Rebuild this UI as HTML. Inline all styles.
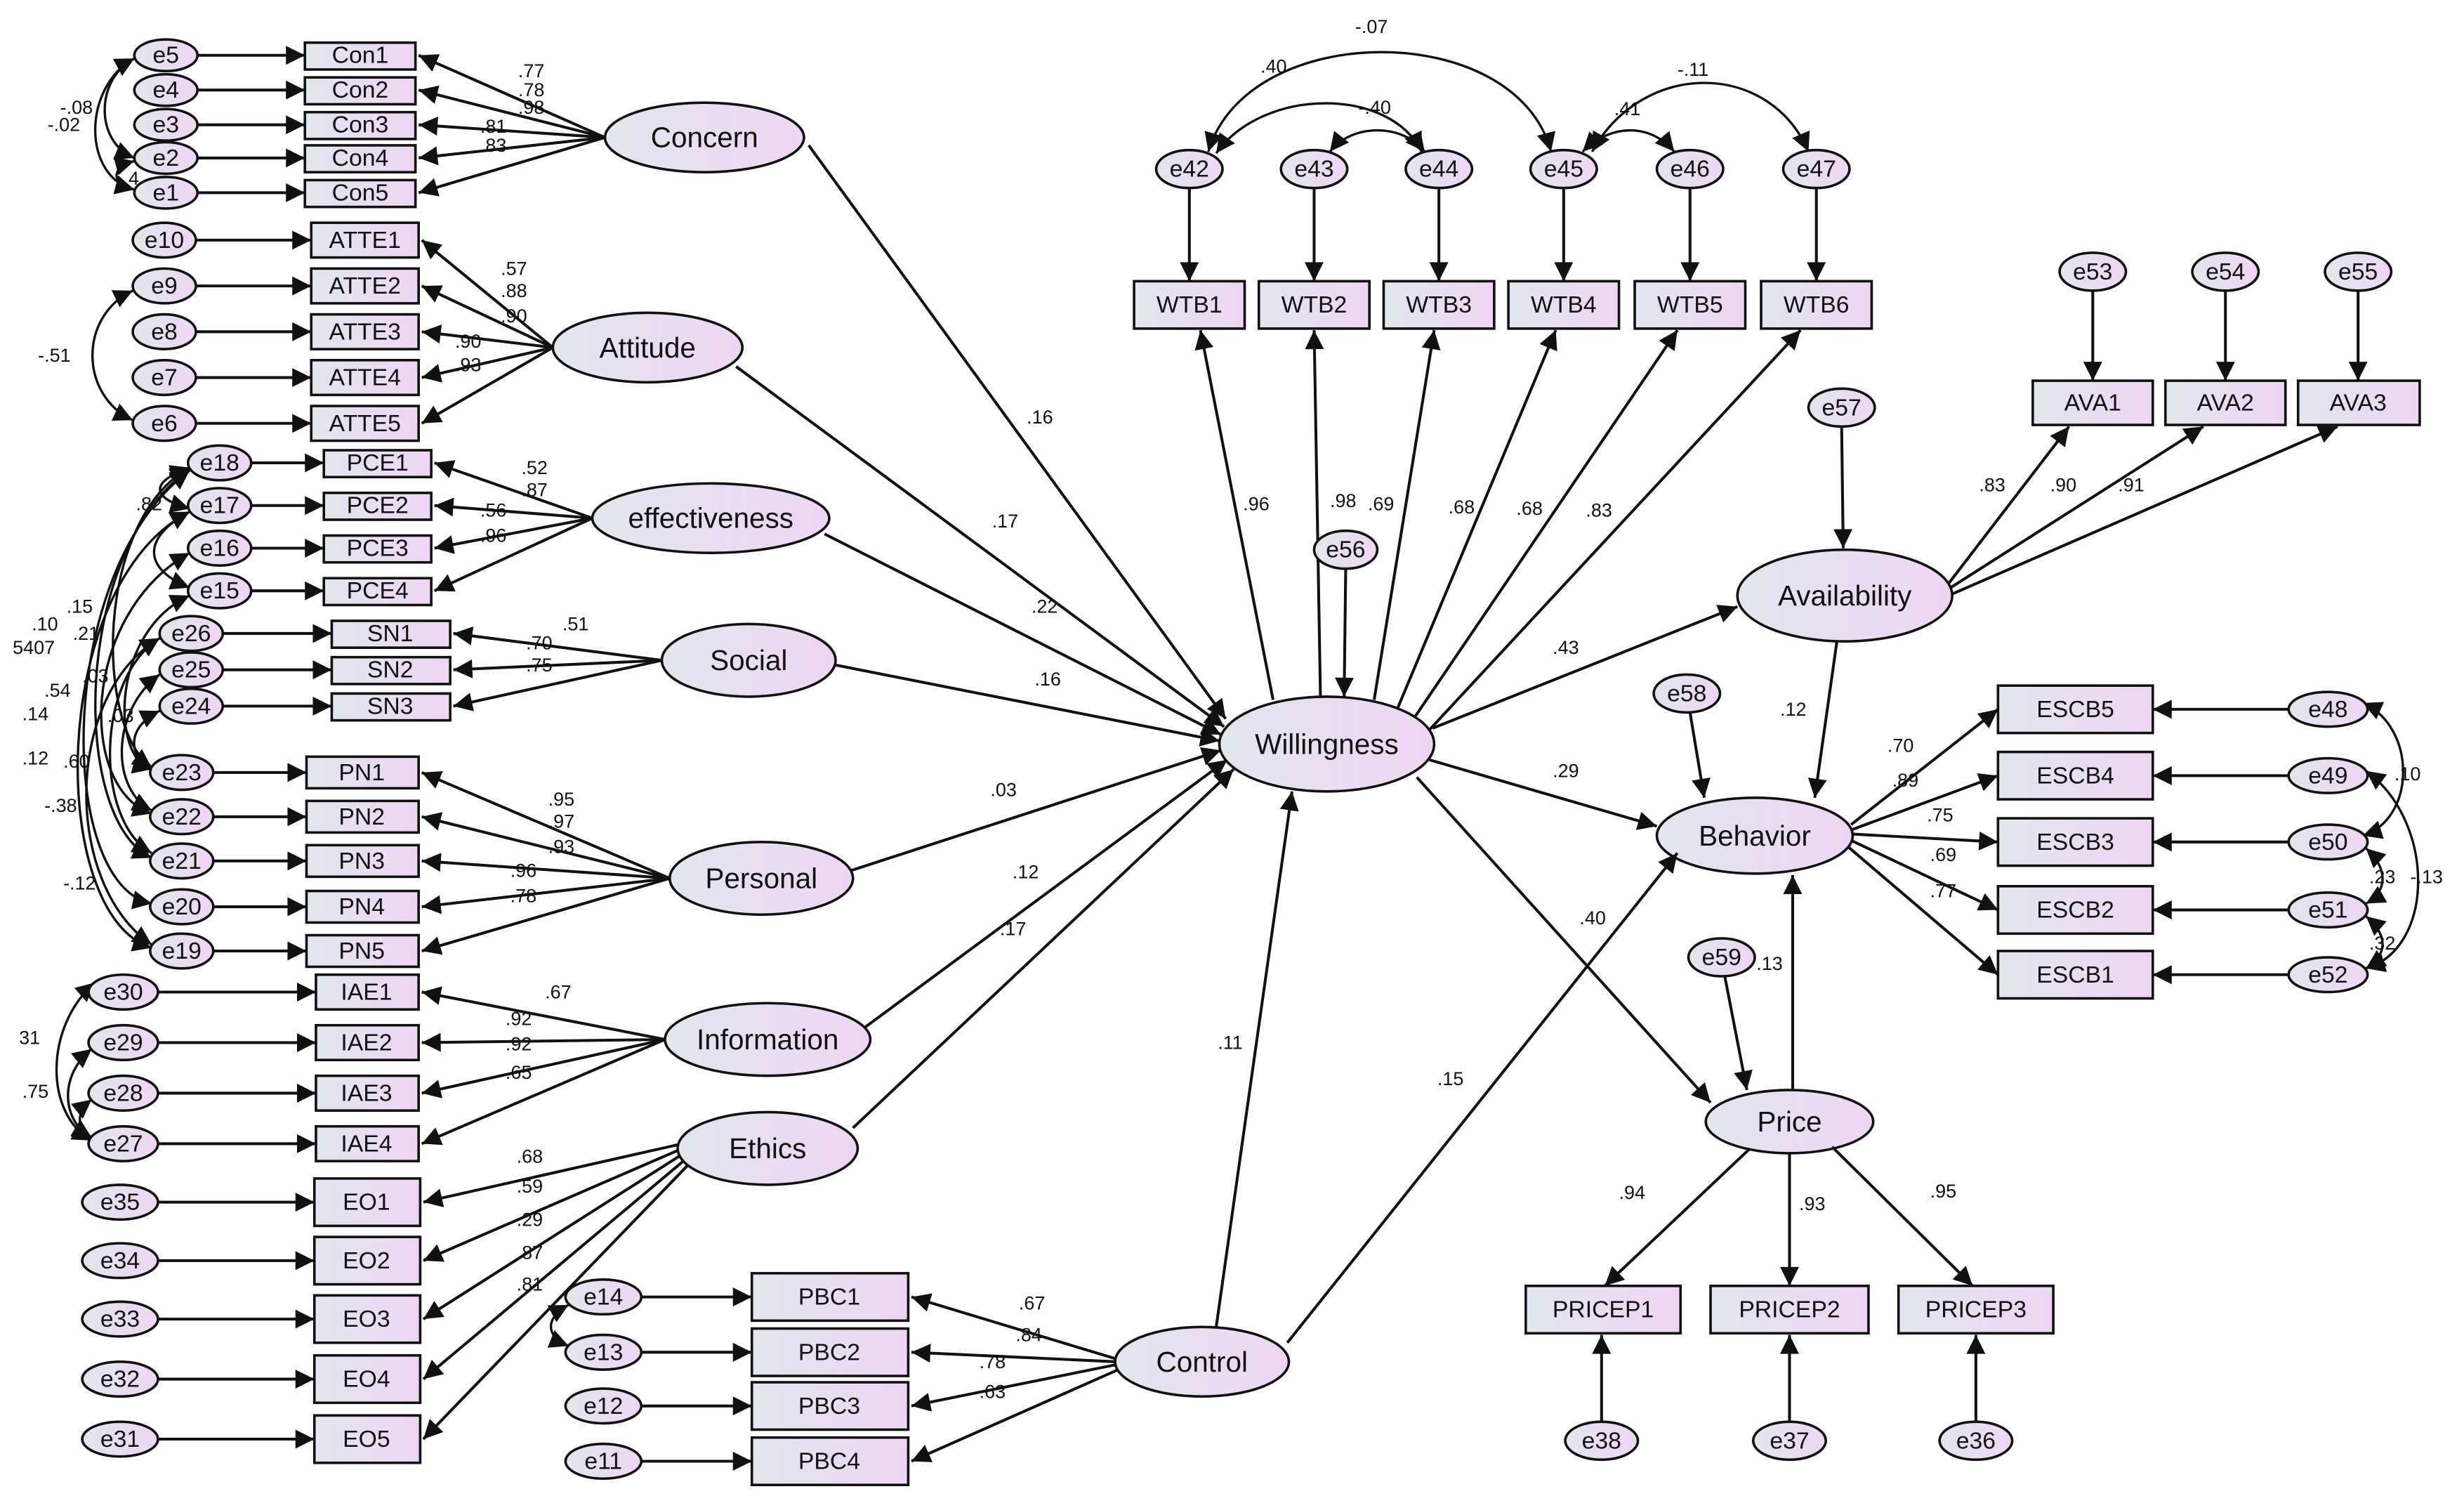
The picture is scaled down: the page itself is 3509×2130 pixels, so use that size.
<!DOCTYPE html>
<html><head><meta charset="utf-8"><style>
html,body{margin:0;padding:0;background:#fff;}
svg{display:block;}
text{font-family:"Liberation Sans",Arial,sans-serif;fill:#111;}
.l{font-size:12px;}
.n{font-size:15px;text-anchor:middle;dominant-baseline:central;}
.b{font-size:18px;text-anchor:middle;dominant-baseline:central;}
ellipse,rect{fill:url(#g);stroke:#111;stroke-width:1.6;}
line,path.c{stroke:#111;stroke-width:1.8;fill:none;marker-end:url(#a);}
path.c{marker-start:url(#a);stroke-width:1.5;}
</style></head><body>
<svg width="3509" height="2130" viewBox="0 0 1560 947" xmlns="http://www.w3.org/2000/svg">
<defs>
<linearGradient id="g" x1="0" x2="1" y1="0" y2="0"><stop offset="0" stop-color="#e2e6ee"/><stop offset="1" stop-color="#eed6f3"/></linearGradient>
<marker id="a" viewBox="0 0 10 10" refX="10" refY="5" markerWidth="16" markerHeight="12" markerUnits="userSpaceOnUse" orient="auto-start-reverse"><path d="M0,0L10,5L0,10z" fill="#111"/></marker>
</defs>
<rect x="0" y="0" width="1560" height="947" style="fill:#fff;stroke:none"/>

<!-- Concern -->
<line x1="125" y1="35" x2="193" y2="35"/><line x1="125" y1="57" x2="193" y2="57"/><line x1="125" y1="79" x2="193" y2="79"/><line x1="125" y1="100" x2="193" y2="100"/><line x1="125" y1="122" x2="193" y2="122"/>
<line x1="383" y1="87" x2="265" y2="35"/><line x1="383" y1="87" x2="265" y2="57"/><line x1="383" y1="87" x2="265" y2="79"/><line x1="383" y1="87" x2="265" y2="100"/><line x1="383" y1="87" x2="265" y2="122"/>
<path class="c" d="M85,37 C60,50 60,90 85,100"/><path class="c" d="M85,37 C52,55 52,112 85,120"/><path class="c" d="M85,102 C70,106 70,116 85,120"/>
<ellipse cx="105" cy="35" rx="20" ry="10"/><text class="n" x="105" y="35">e5</text>
<ellipse cx="105" cy="57" rx="20" ry="10"/><text class="n" x="105" y="57">e4</text>
<ellipse cx="105" cy="79" rx="20" ry="10"/><text class="n" x="105" y="79">e3</text>
<ellipse cx="105" cy="100" rx="20" ry="10"/><text class="n" x="105" y="100">e2</text>
<ellipse cx="105" cy="122" rx="20" ry="10"/><text class="n" x="105" y="122">e1</text>
<rect x="193" y="27" width="70" height="17"/><text class="n" x="228" y="35">Con1</text>
<rect x="193" y="49" width="70" height="17"/><text class="n" x="228" y="57">Con2</text>
<rect x="193" y="71" width="70" height="17"/><text class="n" x="228" y="79">Con3</text>
<rect x="193" y="92" width="70" height="17"/><text class="n" x="228" y="100">Con4</text>
<rect x="193" y="114" width="70" height="17"/><text class="n" x="228" y="122">Con5</text>
<ellipse cx="446" cy="87" rx="63" ry="22"/><text class="b" x="446" y="87">Concern</text>
<text class="l" x="328" y="49">.77</text><text class="l" x="328" y="61">.78</text><text class="l" x="328" y="72">.98</text><text class="l" x="304" y="84">.81</text><text class="l" x="304" y="96">.83</text>
<text class="l" x="38" y="72">-.08</text><text class="l" x="30" y="83">-.02</text><text class="l" x="78" y="117">.4</text>

<!-- Attitude -->
<line x1="124" y1="152" x2="197" y2="152"/><line x1="124" y1="181" x2="197" y2="181"/><line x1="124" y1="210" x2="197" y2="210"/><line x1="124" y1="239" x2="197" y2="239"/><line x1="124" y1="268" x2="197" y2="268"/>
<line x1="350" y1="220" x2="267" y2="152"/><line x1="350" y1="220" x2="267" y2="181"/><line x1="350" y1="220" x2="267" y2="210"/><line x1="350" y1="220" x2="267" y2="239"/><line x1="350" y1="220" x2="267" y2="268"/>
<path class="c" d="M84,184 C50,200 50,250 84,266"/>
<ellipse cx="104" cy="152" rx="20" ry="11"/><text class="n" x="104" y="152">e10</text>
<ellipse cx="104" cy="181" rx="20" ry="11"/><text class="n" x="104" y="181">e9</text>
<ellipse cx="104" cy="210" rx="20" ry="11"/><text class="n" x="104" y="210">e8</text>
<ellipse cx="104" cy="239" rx="20" ry="11"/><text class="n" x="104" y="239">e7</text>
<ellipse cx="104" cy="268" rx="20" ry="11"/><text class="n" x="104" y="268">e6</text>
<rect x="197" y="141" width="68" height="22"/><text class="n" x="231" y="152">ATTE1</text>
<rect x="197" y="170" width="68" height="22"/><text class="n" x="231" y="181">ATTE2</text>
<rect x="197" y="199" width="68" height="22"/><text class="n" x="231" y="210">ATTE3</text>
<rect x="197" y="228" width="68" height="22"/><text class="n" x="231" y="239">ATTE4</text>
<rect x="197" y="257" width="68" height="22"/><text class="n" x="231" y="268">ATTE5</text>
<ellipse cx="410" cy="220" rx="60" ry="22"/><text class="b" x="410" y="220">Attitude</text>
<text class="l" x="317" y="174">.57</text><text class="l" x="317" y="188">.88</text><text class="l" x="317" y="204">.90</text><text class="l" x="288" y="220">.90</text><text class="l" x="288" y="235">.93</text>
<text class="l" x="24" y="229">-.51</text>

<!-- left covariance cluster -->
<path class="c" d="M120,296 C60,330 60,460 96,486"/>
<path class="c" d="M120,297 C45,350 45,520 96,543"/>
<path class="c" d="M120,298 C35,360 35,560 96,572"/>
<path class="c" d="M120,324 C30,370 30,580 96,600"/>
<path class="c" d="M120,350 C50,390 50,500 96,515"/>
<path class="c" d="M120,377 C70,400 70,480 96,487"/>
<path class="c" d="M120,296 C95,305 95,315 120,322"/>
<path class="c" d="M101,404 C60,430 60,520 96,540"/>
<path class="c" d="M101,427 C70,450 70,500 96,513"/>
<path class="c" d="M101,450 C80,460 80,480 98,487"/>
<path class="c" d="M101,404 C40,440 40,560 96,598"/>
<path class="c" d="M120,324 C90,340 90,360 120,372"/>
<ellipse cx="139" cy="293" rx="20" ry="11"/><text class="n" x="139" y="293">e18</text>
<ellipse cx="139" cy="320" rx="20" ry="11"/><text class="n" x="139" y="320">e17</text>
<ellipse cx="139" cy="347" rx="20" ry="11"/><text class="n" x="139" y="347">e16</text>
<ellipse cx="139" cy="374" rx="20" ry="11"/><text class="n" x="139" y="374">e15</text>
<text class="l" x="86" y="323">.82</text><text class="l" x="20" y="399">.10</text><text class="l" x="42" y="388">.15</text><text class="l" x="8" y="414">5407</text><text class="l" x="46" y="405">.21</text>
<text class="l" x="52" y="432">.03</text><text class="l" x="28" y="441">.54</text><text class="l" x="14" y="456">.14</text><text class="l" x="68" y="457">.03</text><text class="l" x="14" y="484">.12</text><text class="l" x="40" y="486">.60</text><text class="l" x="28" y="514">-.38</text><text class="l" x="40" y="563">-.12</text>

<!-- effectiveness -->
<line x1="159" y1="293" x2="205" y2="293"/><line x1="159" y1="320" x2="205" y2="320"/><line x1="159" y1="347" x2="205" y2="347"/><line x1="159" y1="374" x2="205" y2="374"/>
<line x1="375" y1="328" x2="275" y2="293"/><line x1="375" y1="328" x2="275" y2="320"/><line x1="375" y1="328" x2="275" y2="347"/><line x1="375" y1="328" x2="275" y2="374"/>
<rect x="205" y="285" width="68" height="17"/><text class="n" x="239" y="293">PCE1</text>
<rect x="205" y="312" width="68" height="17"/><text class="n" x="239" y="320">PCE2</text>
<rect x="205" y="339" width="68" height="17"/><text class="n" x="239" y="347">PCE3</text>
<rect x="205" y="366" width="68" height="17"/><text class="n" x="239" y="374">PCE4</text>
<ellipse cx="450" cy="328" rx="75" ry="22"/><text class="b" x="450" y="328">effectiveness</text>
<text class="l" x="330" y="300">.52</text><text class="l" x="330" y="314">.87</text><text class="l" x="304" y="327">.56</text><text class="l" x="304" y="343">.96</text>

<!-- Social -->
<line x1="141" y1="401" x2="210" y2="401"/><line x1="141" y1="424" x2="210" y2="424"/><line x1="141" y1="447" x2="210" y2="447"/>
<line x1="419" y1="418" x2="287" y2="401"/><line x1="419" y1="418" x2="287" y2="424"/><line x1="419" y1="418" x2="287" y2="447"/>
<ellipse cx="121" cy="401" rx="20" ry="11"/><text class="n" x="121" y="401">e26</text>
<ellipse cx="121" cy="424" rx="20" ry="11"/><text class="n" x="121" y="424">e25</text>
<ellipse cx="121" cy="447" rx="20" ry="11"/><text class="n" x="121" y="447">e24</text>
<rect x="210" y="393" width="75" height="17"/><text class="n" x="247" y="401">SN1</text>
<rect x="210" y="416" width="75" height="17"/><text class="n" x="247" y="424">SN2</text>
<rect x="210" y="439" width="75" height="17"/><text class="n" x="247" y="447">SN3</text>
<ellipse cx="474" cy="418" rx="55" ry="23"/><text class="b" x="474" y="418">Social</text>
<text class="l" x="356" y="399">.51</text><text class="l" x="333" y="411">.70</text><text class="l" x="333" y="425">.75</text>

<!-- Personal -->
<line x1="135" y1="489" x2="194" y2="489"/><line x1="135" y1="517" x2="194" y2="517"/><line x1="135" y1="545" x2="194" y2="545"/><line x1="135" y1="574" x2="194" y2="574"/><line x1="135" y1="602" x2="194" y2="602"/>
<line x1="424" y1="556" x2="267" y2="489"/><line x1="424" y1="556" x2="267" y2="517"/><line x1="424" y1="556" x2="267" y2="545"/><line x1="424" y1="556" x2="267" y2="574"/><line x1="424" y1="556" x2="267" y2="602"/>
<ellipse cx="115" cy="489" rx="20" ry="11"/><text class="n" x="115" y="489">e23</text>
<ellipse cx="115" cy="517" rx="20" ry="11"/><text class="n" x="115" y="517">e22</text>
<ellipse cx="115" cy="545" rx="20" ry="11"/><text class="n" x="115" y="545">e21</text>
<ellipse cx="115" cy="574" rx="20" ry="11"/><text class="n" x="115" y="574">e20</text>
<ellipse cx="115" cy="602" rx="20" ry="11"/><text class="n" x="115" y="602">e19</text>
<rect x="194" y="479" width="71" height="20"/><text class="n" x="229" y="489">PN1</text>
<rect x="194" y="507" width="71" height="20"/><text class="n" x="229" y="517">PN2</text>
<rect x="194" y="535" width="71" height="20"/><text class="n" x="229" y="545">PN3</text>
<rect x="194" y="564" width="71" height="20"/><text class="n" x="229" y="574">PN4</text>
<rect x="194" y="592" width="71" height="20"/><text class="n" x="229" y="602">PN5</text>
<ellipse cx="482" cy="556" rx="58" ry="23"/><text class="b" x="482" y="556">Personal</text>
<text class="l" x="347" y="510">.95</text><text class="l" x="347" y="524">.97</text><text class="l" x="347" y="540">.93</text><text class="l" x="323" y="555">.96</text><text class="l" x="323" y="571">.78</text>

<!-- Information -->
<line x1="100" y1="628" x2="200" y2="628"/><line x1="100" y1="660" x2="200" y2="660"/><line x1="100" y1="692" x2="200" y2="692"/><line x1="100" y1="724" x2="200" y2="724"/>
<line x1="421" y1="658" x2="267" y2="628"/><line x1="421" y1="658" x2="267" y2="660"/><line x1="421" y1="658" x2="267" y2="692"/><line x1="421" y1="658" x2="267" y2="724"/>
<path class="c" d="M60,622 C28,650 28,705 58,722"/><path class="c" d="M58,664 C38,680 38,708 58,721"/><path class="c" d="M58,696 C48,704 48,714 58,720"/>
<ellipse cx="78" cy="628" rx="22" ry="11"/><text class="n" x="78" y="628">e30</text>
<ellipse cx="78" cy="660" rx="22" ry="11"/><text class="n" x="78" y="660">e29</text>
<ellipse cx="78" cy="692" rx="22" ry="11"/><text class="n" x="78" y="692">e28</text>
<ellipse cx="78" cy="724" rx="22" ry="11"/><text class="n" x="78" y="724">e27</text>
<rect x="200" y="617" width="65" height="22"/><text class="n" x="232" y="628">IAE1</text>
<rect x="200" y="649" width="65" height="22"/><text class="n" x="232" y="660">IAE2</text>
<rect x="200" y="681" width="65" height="22"/><text class="n" x="232" y="692">IAE3</text>
<rect x="200" y="713" width="65" height="22"/><text class="n" x="232" y="724">IAE4</text>
<ellipse cx="486" cy="658" rx="65" ry="23"/><text class="b" x="486" y="658">Information</text>
<text class="l" x="345" y="632">.67</text><text class="l" x="320" y="649">.92</text><text class="l" x="320" y="665">.92</text><text class="l" x="320" y="683">.65</text>
<text class="l" x="12" y="661">31</text><text class="l" x="14" y="695">.75</text>

<!-- Ethics -->
<line x1="100" y1="761" x2="199" y2="761"/><line x1="100" y1="798" x2="199" y2="798"/><line x1="100" y1="835" x2="199" y2="835"/><line x1="100" y1="873" x2="199" y2="873"/><line x1="100" y1="911" x2="199" y2="911"/>
<line x1="432" y1="724" x2="268" y2="761"/><line x1="432" y1="727" x2="268" y2="798"/><line x1="433" y1="730" x2="268" y2="835"/><line x1="435" y1="733" x2="268" y2="873"/><line x1="437" y1="736" x2="268" y2="911"/>
<ellipse cx="76" cy="761" rx="24" ry="11"/><text class="n" x="76" y="761">e35</text>
<ellipse cx="76" cy="798" rx="24" ry="11"/><text class="n" x="76" y="798">e34</text>
<ellipse cx="76" cy="835" rx="24" ry="11"/><text class="n" x="76" y="835">e33</text>
<ellipse cx="76" cy="873" rx="24" ry="11"/><text class="n" x="76" y="873">e32</text>
<ellipse cx="76" cy="911" rx="24" ry="11"/><text class="n" x="76" y="911">e31</text>
<rect x="199" y="746" width="67" height="30"/><text class="n" x="232" y="761">EO1</text>
<rect x="199" y="783" width="67" height="30"/><text class="n" x="232" y="798">EO2</text>
<rect x="199" y="820" width="67" height="30"/><text class="n" x="232" y="835">EO3</text>
<rect x="199" y="858" width="67" height="30"/><text class="n" x="232" y="873">EO4</text>
<rect x="199" y="896" width="67" height="30"/><text class="n" x="232" y="911">EO5</text>
<ellipse cx="486" cy="727" rx="57" ry="23"/><text class="b" x="486" y="727">Ethics</text>
<text class="l" x="327" y="736">.68</text><text class="l" x="327" y="755">.59</text><text class="l" x="327" y="776">.29</text><text class="l" x="327" y="797">.87</text><text class="l" x="327" y="817">.81</text>

<!-- Control -->
<line x1="406" y1="821" x2="476" y2="821"/><line x1="406" y1="856" x2="476" y2="856"/><line x1="406" y1="890" x2="476" y2="890"/><line x1="406" y1="925" x2="476" y2="925"/>
<line x1="706" y1="860" x2="577" y2="821"/><line x1="706" y1="862" x2="577" y2="856"/><line x1="706" y1="864" x2="577" y2="890"/><line x1="708" y1="867" x2="577" y2="925"/>
<path class="c" d="M360,826 C345,834 345,846 360,852"/>
<ellipse cx="382" cy="821" rx="24" ry="11"/><text class="n" x="382" y="821">e14</text>
<ellipse cx="382" cy="856" rx="24" ry="11"/><text class="n" x="382" y="856">e13</text>
<ellipse cx="382" cy="890" rx="24" ry="11"/><text class="n" x="382" y="890">e12</text>
<ellipse cx="382" cy="925" rx="24" ry="11"/><text class="n" x="382" y="925">e11</text>
<rect x="476" y="806" width="99" height="30"/><text class="n" x="525" y="821">PBC1</text>
<rect x="476" y="841" width="99" height="30"/><text class="n" x="525" y="856">PBC2</text>
<rect x="476" y="875" width="99" height="30"/><text class="n" x="525" y="890">PBC3</text>
<rect x="476" y="910" width="99" height="30"/><text class="n" x="525" y="925">PBC4</text>
<ellipse cx="761" cy="862" rx="55" ry="22"/><text class="b" x="761" y="862">Control</text>
<text class="l" x="645" y="829">.67</text><text class="l" x="643" y="849">.84</text><text class="l" x="620" y="866">.78</text><text class="l" x="620" y="885">.63</text>

<!-- to Willingness -->
<line x1="512" y1="92" x2="776" y2="455"/><line x1="466" y1="232" x2="775" y2="460"/><line x1="522" y1="338" x2="773" y2="465"/><line x1="529" y1="421" x2="772" y2="469"/><line x1="539" y1="551" x2="773" y2="475"/><line x1="548" y1="650" x2="777" y2="481"/><line x1="540" y1="714" x2="781" y2="487"/>
<line x1="770" y1="840" x2="818" y2="501"/>
<text class="l" x="650" y="268">.16</text><text class="l" x="628" y="334">.17</text><text class="l" x="653" y="388">.22</text><text class="l" x="655" y="434">.16</text><text class="l" x="627" y="504">.03</text><text class="l" x="641" y="556">.12</text><text class="l" x="633" y="592">.17</text><text class="l" x="771" y="664">.11</text>

<!-- WTB -->
<path class="c" d="M765,96 C790,12 960,12 982,96"/>
<path class="c" d="M770,97 C800,55 880,55 900,96"/>
<path class="c" d="M842,96 C856,78 888,78 902,96"/>
<path class="c" d="M1002,96 C1020,78 1045,78 1060,96"/>
<path class="c" d="M1008,96 C1040,38 1120,38 1145,96"/>
<line x1="753" y1="119" x2="753" y2="178"/><line x1="832" y1="119" x2="832" y2="178"/><line x1="911" y1="119" x2="911" y2="178"/><line x1="990" y1="119" x2="990" y2="178"/><line x1="1070" y1="119" x2="1070" y2="178"/><line x1="1150" y1="119" x2="1150" y2="178"/>
<ellipse cx="753" cy="107" rx="21" ry="12"/><text class="n" x="753" y="107">e42</text>
<ellipse cx="832" cy="107" rx="21" ry="12"/><text class="n" x="832" y="107">e43</text>
<ellipse cx="911" cy="107" rx="21" ry="12"/><text class="n" x="911" y="107">e44</text>
<ellipse cx="990" cy="107" rx="21" ry="12"/><text class="n" x="990" y="107">e45</text>
<ellipse cx="1070" cy="107" rx="21" ry="12"/><text class="n" x="1070" y="107">e46</text>
<ellipse cx="1150" cy="107" rx="21" ry="12"/><text class="n" x="1150" y="107">e47</text>
<text class="l" x="858" y="21">-.07</text><text class="l" x="798" y="46">.40</text><text class="l" x="860" y="72">-.40</text><text class="l" x="1022" y="73">.41</text><text class="l" x="1062" y="48">-.11</text>
<rect x="718" y="178" width="70" height="30"/><text class="n" x="753" y="193">WTB1</text>
<rect x="797" y="178" width="70" height="30"/><text class="n" x="832" y="193">WTB2</text>
<rect x="876" y="178" width="70" height="30"/><text class="n" x="911" y="193">WTB3</text>
<rect x="955" y="178" width="70" height="30"/><text class="n" x="990" y="193">WTB4</text>
<rect x="1035" y="178" width="70" height="30"/><text class="n" x="1070" y="193">WTB5</text>
<rect x="1115" y="178" width="70" height="30"/><text class="n" x="1150" y="193">WTB6</text>
<line x1="806" y1="443" x2="760" y2="209"/><line x1="836" y1="441" x2="832" y2="209"/><line x1="870" y1="443" x2="908" y2="209"/><line x1="885" y1="448" x2="985" y2="209"/><line x1="895" y1="455" x2="1062" y2="209"/><line x1="905" y1="462" x2="1140" y2="209"/>
<text class="l" x="787" y="323">.96</text><text class="l" x="842" y="321">.98</text><text class="l" x="866" y="323">.69</text><text class="l" x="917" y="325">.68</text><text class="l" x="960" y="326">.68</text><text class="l" x="1004" y="327">.83</text>
<line x1="852" y1="360" x2="851" y2="441"/>
<ellipse cx="852" cy="348" rx="20" ry="12"/><text class="n" x="852" y="348">e56</text>

<!-- Willingness -->
<ellipse cx="840" cy="471" rx="68" ry="30"/><text class="b" x="840" y="471">Willingness</text>

<!-- Availability -->
<line x1="907" y1="461" x2="1100" y2="384"/>
<text class="l" x="983" y="414">.43</text>
<line x1="1166" y1="270" x2="1167" y2="347"/>
<ellipse cx="1166" cy="258" rx="21" ry="12"/><text class="n" x="1166" y="258">e57</text>
<line x1="1234" y1="369" x2="1310" y2="270"/><line x1="1235" y1="372" x2="1395" y2="270"/><line x1="1236" y1="376" x2="1480" y2="270"/>
<text class="l" x="1253" y="311">.83</text><text class="l" x="1298" y="311">.90</text><text class="l" x="1341" y="311">.91</text>
<line x1="1325" y1="184" x2="1325" y2="241"/><line x1="1409" y1="184" x2="1409" y2="241"/><line x1="1493" y1="184" x2="1493" y2="241"/>
<ellipse cx="1325" cy="172" rx="21" ry="12"/><text class="n" x="1325" y="172">e53</text>
<ellipse cx="1409" cy="172" rx="21" ry="12"/><text class="n" x="1409" y="172">e54</text>
<ellipse cx="1493" cy="172" rx="21" ry="12"/><text class="n" x="1493" y="172">e55</text>
<rect x="1287" y="241" width="76" height="28"/><text class="n" x="1325" y="255">AVA1</text>
<rect x="1371" y="241" width="76" height="28"/><text class="n" x="1409" y="255">AVA2</text>
<rect x="1455" y="241" width="77" height="28"/><text class="n" x="1493" y="255">AVA3</text>
<ellipse cx="1168" cy="377" rx="68" ry="29"/><text class="b" x="1168" y="377">Availability</text>
<line x1="1163" y1="406" x2="1149" y2="505"/><text class="l" x="1127" y="453">.12</text>

<!-- Behavior -->
<line x1="905" y1="481" x2="1049" y2="523"/><text class="l" x="983" y="492">.29</text>
<line x1="1070" y1="451" x2="1079" y2="505"/>
<ellipse cx="1068" cy="439" rx="21" ry="12"/><text class="n" x="1068" y="439">e58</text>
<line x1="1172" y1="522" x2="1265" y2="449"/><line x1="1173" y1="525" x2="1265" y2="491"/><line x1="1173" y1="528" x2="1265" y2="533"/><line x1="1172" y1="532" x2="1265" y2="576"/><line x1="1170" y1="536" x2="1265" y2="617"/>
<text class="l" x="1195" y="476">.70</text><text class="l" x="1198" y="498">.89</text><text class="l" x="1220" y="520">.75</text><text class="l" x="1222" y="545">.69</text><text class="l" x="1222" y="568">.77</text>
<rect x="1265" y="434" width="98" height="30"/><text class="n" x="1314" y="449">ESCB5</text>
<rect x="1265" y="476" width="98" height="30"/><text class="n" x="1314" y="491">ESCB4</text>
<rect x="1265" y="518" width="98" height="30"/><text class="n" x="1314" y="533">ESCB3</text>
<rect x="1265" y="561" width="98" height="30"/><text class="n" x="1314" y="576">ESCB2</text>
<rect x="1265" y="602" width="98" height="30"/><text class="n" x="1314" y="617">ESCB1</text>
<line x1="1449" y1="449" x2="1363" y2="449"/><line x1="1449" y1="491" x2="1363" y2="491"/><line x1="1449" y1="533" x2="1363" y2="533"/><line x1="1449" y1="576" x2="1363" y2="576"/><line x1="1449" y1="617" x2="1363" y2="617"/>
<path class="c" d="M1496,445 C1530,460 1530,518 1496,529"/>
<path class="c" d="M1498,488 C1542,520 1542,600 1498,613"/>
<path class="c" d="M1498,537 C1512,550 1512,564 1498,572"/>
<path class="c" d="M1498,580 C1512,592 1512,604 1498,613"/>
<ellipse cx="1474" cy="449" rx="25" ry="11"/><text class="n" x="1474" y="449">e48</text>
<ellipse cx="1474" cy="491" rx="25" ry="11"/><text class="n" x="1474" y="491">e49</text>
<ellipse cx="1474" cy="533" rx="25" ry="11"/><text class="n" x="1474" y="533">e50</text>
<ellipse cx="1474" cy="576" rx="25" ry="11"/><text class="n" x="1474" y="576">e51</text>
<ellipse cx="1474" cy="617" rx="25" ry="11"/><text class="n" x="1474" y="617">e52</text>
<text class="l" x="1516" y="494">.10</text><text class="l" x="1500" y="559">.23</text><text class="l" x="1526" y="559">-.13</text><text class="l" x="1500" y="601">.32</text>
<ellipse cx="1111" cy="529" rx="62" ry="24"/><text class="b" x="1111" y="529">Behavior</text>

<!-- Price -->
<line x1="897" y1="492" x2="1083" y2="698"/><text class="l" x="1000" y="585">.40</text>
<line x1="815" y1="850" x2="1062" y2="540"/><text class="l" x="910" y="687">.15</text>
<line x1="1135" y1="690" x2="1135" y2="554"/>
<line x1="1092" y1="618" x2="1106" y2="690"/>
<ellipse cx="1090" cy="606" rx="21" ry="12"/><text class="n" x="1090" y="606">e59</text>
<text class="l" x="1112" y="614">.13</text>
<ellipse cx="1133" cy="710" rx="53" ry="20"/><text class="b" x="1133" y="710">Price</text>
<line x1="1108" y1="727" x2="1016" y2="814"/><line x1="1133" y1="730" x2="1133" y2="814"/><line x1="1160" y1="726" x2="1249" y2="814"/>
<text class="l" x="1025" y="759">.94</text><text class="l" x="1139" y="766">.93</text><text class="l" x="1222" y="758">.95</text>
<rect x="966" y="814" width="98" height="30"/><text class="n" x="1015" y="829">PRICEP1</text>
<rect x="1083" y="814" width="100" height="30"/><text class="n" x="1133" y="829">PRICEP2</text>
<rect x="1202" y="814" width="98" height="30"/><text class="n" x="1251" y="829">PRICEP3</text>
<line x1="1014" y1="900" x2="1014" y2="845"/><line x1="1133" y1="900" x2="1133" y2="845"/><line x1="1251" y1="900" x2="1251" y2="845"/>
<ellipse cx="1014" cy="912" rx="23" ry="12"/><text class="n" x="1014" y="912">e38</text>
<ellipse cx="1133" cy="912" rx="23" ry="12"/><text class="n" x="1133" y="912">e37</text>
<ellipse cx="1251" cy="912" rx="23" ry="12"/><text class="n" x="1251" y="912">e36</text>
</svg>
</body></html>
